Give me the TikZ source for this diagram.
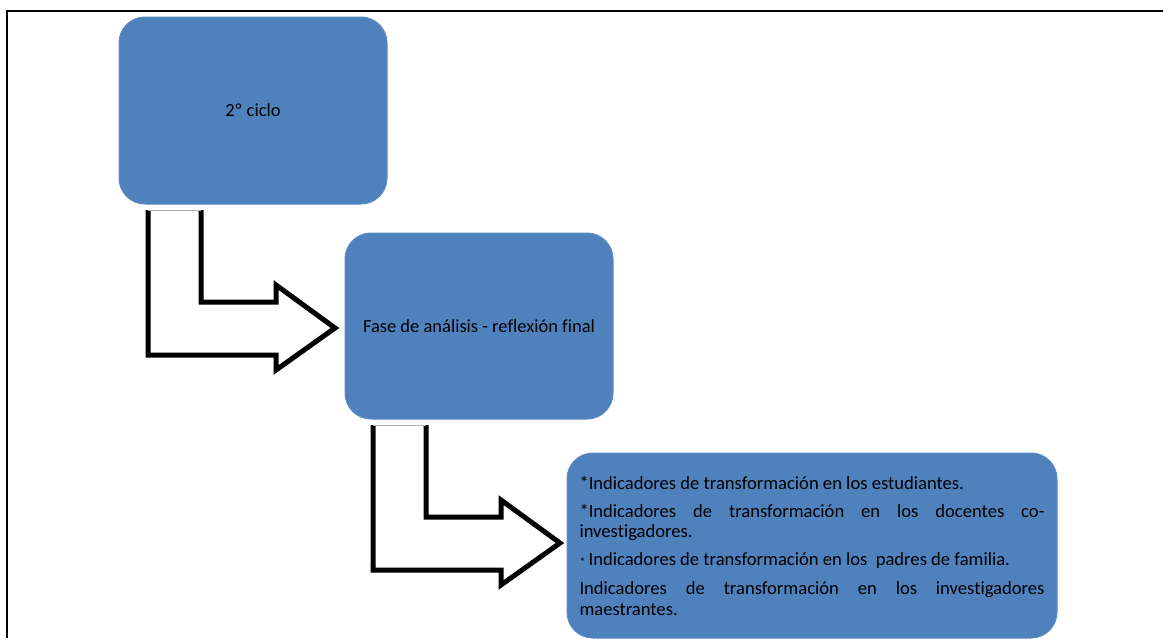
\documentclass[tikz,border=0pt]{standalone}
\usepackage{fontspec}
\setmainfont{Carlito}[Ligatures=NoCommon]
\definecolor{boxblue}{HTML}{4F81BD}
\definecolor{edgeblue}{HTML}{5B8BC4}
\begin{document}
\begin{tikzpicture}[x=1pt,y=-1pt,
  box/.style={fill=boxblue, draw=edgeblue, line width=1pt, rounded corners=26pt, text=black},
  bentarrow/.style={draw=black, line width=5pt, fill=white, line join=miter},
  bendarrow/.pic={
    \path[fill=white] (148,210) -- (148,355) -- (276,355) -- (276,370) -- (335,328) -- (276,285) -- (276,302) -- (201,302) -- (201,210) -- cycle;
    \draw[bentarrow] (148,210) -- (148,355) -- (276,355) -- (276,370) -- (335,328) -- (276,285) -- (276,302) -- (201,302) -- (201,210);
    \draw[gray!60, line width=0.8pt] (148,210) -- (201,210);
  }]
\useasboundingbox (0,0) rectangle (1163,638);
\draw[line width=2pt] (7,638) -- (7,11) -- (1163,11);

\node[box, minimum width=268pt, minimum height=187pt, font=\fontsize{18.5}{21}\selectfont] (c2) at (253,110.5) {2º ciclo};
\node[box, minimum width=268pt, minimum height=186pt, font=\fontsize{18.5}{21}\selectfont] (fa) at (479,326) {Fase de análisis - reflexión final};
\node[box, minimum width=490pt, minimum height=185pt, text width=465pt, inner xsep=12.5pt, align=justify,
  font=\fontsize{18.6}{20.6}\selectfont] (ind) at (812,545.5) {%
*Indicadores de transformación en los estudiantes.\par\vspace{7.5pt}
*Indicadores de transformación en los docentes co-\mbox{investigadores.}\par\vspace{7.5pt}
\raisebox{-1pt}{\fontsize{12}{12}\selectfont *}\,Indicadores de transformación en los \ padres de familia.\par\vspace{8pt}
Indicadores de transformación en los \mbox{investigadores} \mbox{maestrantes.}};

\pic (a1) at (0,0) {bendarrow};
\pic (a2) at (225,215) {bendarrow};
\end{tikzpicture}
\end{document}
